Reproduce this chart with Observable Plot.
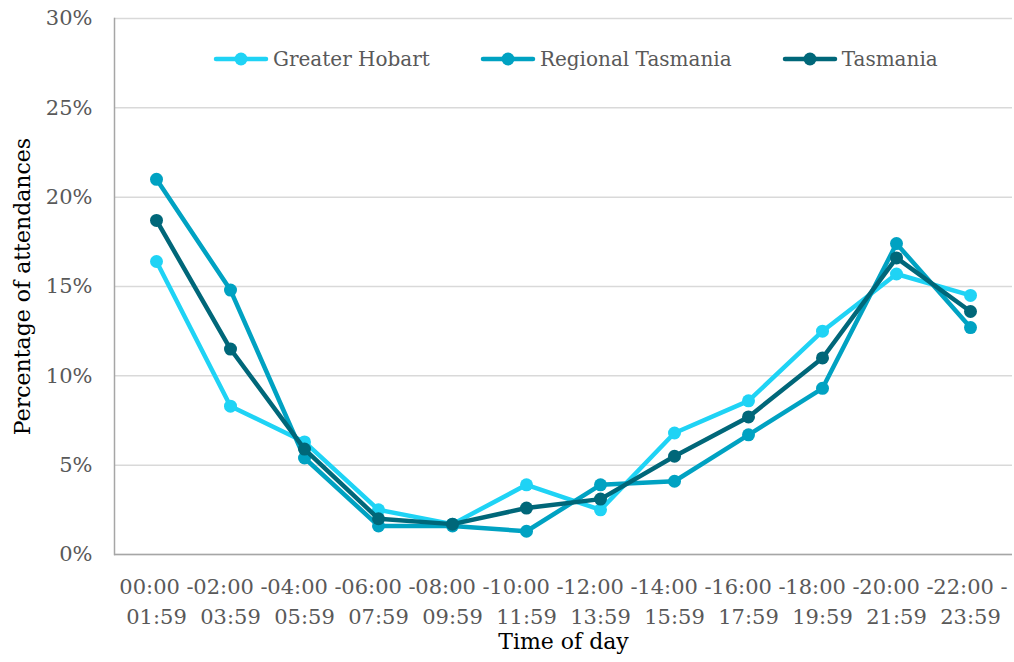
<!DOCTYPE html>
<html>
<head>
<meta charset="utf-8">
<script src="https://cdn.jsdelivr.net/npm/d3@7"></script>
<script src="https://cdn.jsdelivr.net/npm/@observablehq/plot@0.6"></script>
<style>
  html, body { margin: 0; padding: 0; background: #fff; }
  #wrap { position: relative; width: 1014px; height: 662px; }
  #legend { position: absolute; left: 213px; top: 47px; display: flex; gap: 50px; align-items: center;
            font-family: "DejaVu Serif", serif; font-size: 20px; color: #595959; }
  .item { display: flex; align-items: center; }
  .item svg { margin-right: 4px; }
</style>
</head>
<body>
<div id="wrap"></div>
<script>
const categories = ["00:00 - 01:59","02:00 - 03:59","04:00 - 05:59","06:00 - 07:59","08:00 - 09:59","10:00 - 11:59",
                    "12:00 - 13:59","14:00 - 15:59","16:00 - 17:59","18:00 - 19:59","20:00 - 21:59","22:00 - 23:59"];
const seriesNames = ["Greater Hobart", "Regional Tasmania", "Tasmania"];
const greaterHobart = [16.4, 8.3, 6.3, 2.5, 1.7, 3.9, 2.5, 6.8, 8.6, 12.5, 15.7, 14.5];
const regionalTasmania = [21.0, 14.8, 5.4, 1.6, 1.6, 1.3, 3.9, 4.1, 6.7, 9.3, 17.4, 12.7];
const tasmania = [18.7, 11.5, 5.9, 2.0, 1.7, 2.6, 3.1, 5.5, 7.7, 11.0, 16.6, 13.6];
const colors = ["#1fd3f5", "#00a2c2", "#006779"];
const yTicks = [0, 5, 10, 15, 20, 25, 30];

const seriesValues = [greaterHobart, regionalTasmania, tasmania];
const rows = seriesValues.flatMap((vals, s) => vals.map((v, i) => ({series: seriesNames[s], time: categories[i], value: v / 100})));

const seriesMarks = seriesNames.flatMap(name => {
  const d = rows.filter(r => r.series === name);
  return [
    Plot.line(d, {x: "time", y: "value", stroke: "series", strokeWidth: 4.5, strokeLinejoin: "round", strokeLinecap: "round"}),
    Plot.dot(d, {x: "time", y: "value", fill: "series", r: 6.5, stroke: null})
  ];
});

const chart = Plot.plot({
  width: 1014, height: 662,
  marginLeft: 114, marginRight: 2, marginTop: 18, marginBottom: 108,
  style: {fontFamily: "DejaVu Serif, serif", background: "white", overflow: "visible"},
  x: {type: "point", domain: categories, padding: 0.5, label: null},
  y: {domain: [0, 0.30], label: null},
  color: {domain: seriesNames, range: colors},
  marks: [
    Plot.gridY(yTicks.map(t => t / 100), {stroke: "#d9d9d9", strokeOpacity: 1, strokeWidth: 1.5}),
    Plot.frame({anchor: "left", stroke: "#a6a6a6", strokeWidth: 1.5}),
    Plot.ruleY([0], {stroke: "#a6a6a6", strokeWidth: 1.5}),
    Plot.axisY(yTicks.map(t => t / 100), {tickSize: 0, tickPadding: 22, fontSize: 21, fill: "#595959",
      tickFormat: d => Math.round(d * 100) + "%", label: null}),
    Plot.axisX({tickSize: 0, tickPadding: 19, fontSize: 21, fill: "#595959", lineHeight: 1.4,
      tickFormat: d => d.replace(" - ", " -\n"), label: null}),
    ...seriesMarks,
    Plot.text(["Time of day"], {frameAnchor: "bottom", lineAnchor: "middle", dy: 87, fontSize: 22, fill: "#000"}),
    Plot.text(["Percentage of attendances"], {frameAnchor: "left", textAnchor: "middle", dx: -92, rotate: -90, fontSize: 22, fill: "#000"})
  ]
});

const wrap = document.getElementById("wrap");
wrap.appendChild(chart);

const legend = document.createElement("div");
legend.id = "legend";
seriesNames.forEach((name, i) => {
  const item = document.createElement("div");
  item.className = "item";
  item.innerHTML = `<svg width="56" height="16"><line x1="3" y1="8" x2="53" y2="8" stroke="${colors[i]}" stroke-width="4.5" stroke-linecap="round"/><circle cx="28" cy="8" r="6.5" fill="${colors[i]}"/></svg><span>${name}</span>`;
  legend.appendChild(item);
});
wrap.appendChild(legend);
</script>
</body>
</html>
